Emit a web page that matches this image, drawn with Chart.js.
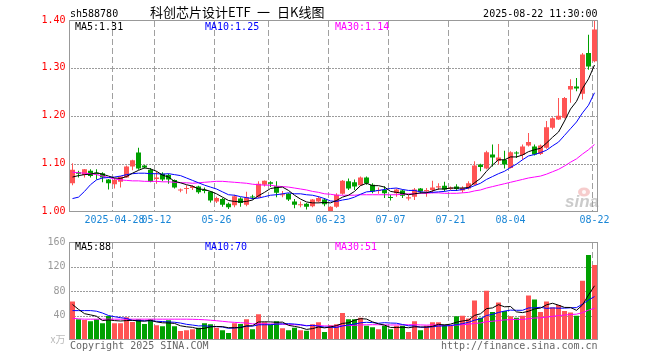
<!DOCTYPE html>
<html>
<head>
<meta charset="utf-8">
<script src="https://cdn.jsdelivr.net/npm/chart.js@4/dist/chart.umd.min.js"></script>
<style>
html, body { margin: 0; padding: 0; background: #fff; width: 660px; height: 360px; overflow: hidden; }
#k { position: absolute; left: 0; top: 0; }
#v { position: absolute; left: 0; top: 232px; }
</style>
</head>
<body>
<canvas id="k" width="660" height="232"></canvas>
<canvas id="v" width="660" height="128"></canvas>
<script>
// ---- data ----
const dates = [
  '2025-04-17','2025-04-18','2025-04-21','2025-04-22','2025-04-23','2025-04-24','2025-04-25','2025-04-28','2025-04-29','2025-04-30',
  '2025-05-06','2025-05-07','2025-05-08','2025-05-09','2025-05-12','2025-05-13','2025-05-14','2025-05-15','2025-05-16','2025-05-19',
  '2025-05-20','2025-05-21','2025-05-22','2025-05-23','2025-05-26','2025-05-27','2025-05-28','2025-05-29','2025-05-30','2025-06-03',
  '2025-06-04','2025-06-05','2025-06-06','2025-06-09','2025-06-10','2025-06-11','2025-06-12','2025-06-13','2025-06-16','2025-06-17',
  '2025-06-18','2025-06-19','2025-06-20','2025-06-23','2025-06-24','2025-06-25','2025-06-26','2025-06-27','2025-06-30','2025-07-01',
  '2025-07-02','2025-07-03','2025-07-04','2025-07-07','2025-07-08','2025-07-09','2025-07-10','2025-07-11','2025-07-14','2025-07-15',
  '2025-07-16','2025-07-17','2025-07-18','2025-07-21','2025-07-22','2025-07-23','2025-07-24','2025-07-25','2025-07-28','2025-07-29',
  '2025-07-30','2025-07-31','2025-08-01','2025-08-04','2025-08-05','2025-08-06','2025-08-07','2025-08-08','2025-08-11','2025-08-12',
  '2025-08-13','2025-08-14','2025-08-15','2025-08-18','2025-08-19','2025-08-20','2025-08-21','2025-08-22'
];
const open = [
  1.059,1.082,1.076,1.085,1.081,1.080,1.067,1.057,1.062,1.071,
  1.094,1.123,1.096,1.087,1.068,1.079,1.076,1.066,1.044,1.047,
  1.049,1.052,1.045,1.042,1.021,1.026,1.016,1.013,1.027,1.014,
  1.031,1.030,1.056,1.061,1.053,1.034,1.037,1.021,1.013,1.016,
  1.011,1.021,1.025,1.001,1.010,1.037,1.063,1.061,1.055,1.071,
  1.056,1.043,1.045,1.030,1.038,1.044,1.027,1.031,1.048,1.042,
  1.045,1.050,1.054,1.047,1.052,1.044,1.048,1.056,1.098,1.090,
  1.119,1.106,1.108,1.091,1.123,1.118,1.138,1.136,1.120,1.133,
  1.175,1.192,1.196,1.255,1.261,1.246,1.331,1.314
];
const high = [
  1.101,1.085,1.089,1.088,1.088,1.082,1.068,1.070,1.074,1.096,
  1.108,1.133,1.097,1.091,1.084,1.082,1.079,1.067,1.048,1.055,
  1.055,1.054,1.050,1.043,1.031,1.028,1.019,1.035,1.030,1.041,
  1.035,1.063,1.065,1.063,1.063,1.043,1.038,1.026,1.021,1.018,
  1.026,1.032,1.028,1.011,1.038,1.066,1.069,1.067,1.073,1.073,
  1.059,1.050,1.053,1.035,1.048,1.046,1.035,1.049,1.049,1.049,
  1.064,1.059,1.062,1.052,1.057,1.053,1.063,1.105,1.100,1.127,
  1.140,1.141,1.127,1.126,1.126,1.140,1.164,1.140,1.140,1.189,
  1.197,1.237,1.239,1.276,1.279,1.331,1.369,1.401
];
const low = [
  1.055,1.071,1.071,1.071,1.067,1.061,1.046,1.048,1.050,1.070,
  1.086,1.087,1.090,1.061,1.058,1.063,1.058,1.048,1.040,1.037,
  1.045,1.037,1.038,1.019,1.018,1.010,1.005,1.009,1.010,1.011,
  1.025,1.028,1.052,1.051,1.030,1.030,1.022,1.007,1.009,1.004,
  1.009,1.019,1.011,0.998,1.008,1.035,1.045,1.045,1.054,1.056,
  1.038,1.037,1.028,1.023,1.031,1.028,1.023,1.024,1.037,1.031,
  1.038,1.045,1.042,1.045,1.043,1.039,1.046,1.055,1.084,1.088,
  1.094,1.098,1.090,1.090,1.112,1.108,1.136,1.117,1.118,1.131,
  1.172,1.191,1.194,1.227,1.251,1.234,1.296,1.312
];
const close = [
  1.087,1.079,1.088,1.074,1.078,1.071,1.059,1.066,1.073,1.094,
  1.107,1.090,1.092,1.062,1.071,1.067,1.067,1.050,1.045,1.049,
  1.053,1.040,1.043,1.023,1.028,1.014,1.009,1.032,1.018,1.030,
  1.029,1.058,1.064,1.058,1.039,1.036,1.025,1.014,1.015,1.010,
  1.025,1.028,1.015,1.010,1.035,1.064,1.048,1.052,1.071,1.059,
  1.042,1.045,1.038,1.028,1.046,1.033,1.030,1.046,1.042,1.045,
  1.050,1.053,1.046,1.050,1.047,1.049,1.059,1.096,1.093,1.124,
  1.113,1.113,1.098,1.124,1.121,1.136,1.145,1.119,1.138,1.176,
  1.195,1.200,1.237,1.262,1.257,1.328,1.303,1.380
];
const ma5 = [
  1.072,1.075,1.077,1.078,1.081,1.078,1.074,1.070,1.069,1.073,
  1.080,1.086,1.091,1.089,1.084,1.076,1.072,1.063,1.060,1.056,
  1.053,1.047,1.046,1.042,1.037,1.030,1.023,1.021,1.020,1.021,
  1.024,1.033,1.040,1.048,1.050,1.051,1.044,1.034,1.026,1.020,
  1.018,1.018,1.019,1.018,1.023,1.030,1.034,1.042,1.054,1.059,
  1.054,1.054,1.051,1.042,1.040,1.038,1.035,1.037,1.039,1.039,
  1.043,1.047,1.047,1.049,1.049,1.049,1.050,1.060,1.069,1.084,
  1.097,1.108,1.108,1.114,1.114,1.118,1.125,1.129,1.132,1.143,
  1.155,1.166,1.189,1.214,1.230,1.257,1.277,1.306
];
const ma10 = [
  1.027,1.030,1.042,1.056,1.066,1.070,1.071,1.072,1.074,1.077,
  1.079,1.080,1.080,1.079,1.079,1.078,1.079,1.077,1.075,1.070,
  1.065,1.060,1.055,1.051,1.047,1.041,1.035,1.034,1.031,1.029,
  1.027,1.028,1.031,1.034,1.035,1.037,1.039,1.037,1.037,1.035,
  1.034,1.031,1.027,1.022,1.021,1.024,1.026,1.030,1.036,1.041,
  1.042,1.044,1.046,1.048,1.049,1.046,1.044,1.044,1.041,1.040,
  1.040,1.041,1.042,1.044,1.044,1.046,1.049,1.054,1.059,1.067,
  1.073,1.079,1.084,1.092,1.099,1.108,1.116,1.119,1.123,1.128,
  1.137,1.145,1.159,1.173,1.187,1.206,1.222,1.248
];
const ma30 = [
  1.082,1.081,1.080,1.079,1.077,1.074,1.071,1.068,1.066,1.065,
  1.064,1.064,1.063,1.063,1.063,1.062,1.062,1.061,1.060,1.060,
  1.059,1.060,1.061,1.062,1.063,1.063,1.062,1.061,1.060,1.059,
  1.057,1.056,1.055,1.055,1.053,1.052,1.051,1.049,1.047,1.045,
  1.042,1.040,1.037,1.036,1.034,1.034,1.034,1.034,1.035,1.035,
  1.035,1.035,1.035,1.035,1.035,1.036,1.037,1.037,1.038,1.038,
  1.039,1.039,1.038,1.038,1.038,1.039,1.040,1.043,1.045,1.049,
  1.052,1.055,1.058,1.061,1.064,1.067,1.070,1.072,1.074,1.078,
  1.083,1.088,1.095,1.103,1.110,1.120,1.129,1.140
];
const volume = [
  62.8,33.8,32.8,30.6,33.8,27.4,39.2,27.4,27.4,37.1,
  29.5,33.8,26.3,33.8,24.2,22.6,32.2,22.6,14.5,16.1,
  17.7,19.9,27.4,25.8,19.9,16.1,11.3,27.4,26.3,33.8,
  17.7,41.9,29.0,25.2,30.6,19.3,16.1,19.9,16.1,15.0,
  25.8,29.0,12.9,24.0,25.8,44.0,33.8,33.8,36.5,23.1,
  21.0,17.7,23.1,17.7,23.1,23.1,12.9,30.6,16.1,23.1,
  29.0,29.0,25.2,23.1,38.7,39.7,34.9,64.4,36.5,80.6,
  45.6,61.2,47.3,38.7,36.5,39.7,72.5,66.1,45.6,63.0,
  53.0,57.0,47.5,45.0,39.7,96.6,138.6,122.5
];
const vma5 = [
  58,50,43,41,38.8,31.7,32.8,31.7,31.0,31.7,
  32.1,31.0,30.8,32.1,29.5,28.1,27.8,27.1,23.2,21.6,
  20.6,18.2,19.1,21.4,22.1,21.8,20.1,20.1,20.2,23.0,
  23.3,29.4,29.7,29.5,28.9,29.2,24.0,22.2,20.4,17.3,
  18.6,21.2,19.8,21.3,23.5,27.1,28.1,32.3,34.8,34.2,
  29.6,26.4,24.3,20.5,20.5,20.9,20.0,21.5,21.2,21.2,
  22.3,25.6,24.5,25.9,29.0,31.1,32.3,40.2,42.8,51.2,
  52.4,57.7,54.2,54.7,45.9,44.7,46.9,50.7,52.1,57.4,
  60.0,56.9,53.2,53.1,48.4,57.2,73.5,88.5
];
const vma10 = [
  48,48,48,48,47,44,40,38,36.5,35.2,
  31.9,31.9,31.3,31.6,30.6,30.1,29.4,29.0,27.7,25.6,
  24.4,23.0,23.1,22.3,21.9,21.2,19.1,19.6,20.8,22.6,
  22.6,24.8,24.9,24.9,25.9,26.3,26.7,26.0,25.0,23.1,
  23.9,22.6,21.0,20.9,20.4,22.9,24.6,26.0,28.1,28.9,
  28.4,27.3,28.3,27.7,27.4,25.3,23.2,22.9,20.8,20.8,
  21.6,22.8,23.0,23.5,25.1,26.7,28.9,32.3,34.4,40.1,
  41.8,45.0,47.2,48.8,48.5,48.5,52.3,52.5,53.4,51.6,
  52.4,51.9,52.0,52.6,52.9,58.6,65.2,70.9
];
const vma30 = [
  35.5,34.5,34,34,34,34,34,34,34,34,
  34,34,34,34,34,34,34,34,34,34,
  33.8,33.5,33.0,32.3,31.5,30.5,29.5,28.8,28.2,27.8,
  26.3,26.6,26.4,26.2,26.1,25.9,25.1,24.9,24.5,23.7,
  23.6,23.5,23.0,22.7,22.7,23.4,23.5,23.9,24.6,24.8,
  25.0,24.9,24.7,24.5,24.6,24.8,24.9,25.0,24.6,24.3,
  24.6,24.2,24.1,24.0,24.3,25.0,25.6,27.1,27.8,29.9,
  30.6,31.7,32.8,33.3,33.7,33.5,34.8,35.9,36.2,37.5,
  38.6,39.9,40.7,41.6,42.2,44.6,48.8,51.9
];
const tickDates = ['2025-04-28','2025-05-12','2025-05-26','2025-06-09','2025-06-23','2025-07-07','2025-07-21','2025-08-04','2025-08-22'];
const tickTexts = ['2025-04-28','05-12','05-26','06-09','06-23','07-07','07-21','08-04','08-22'];
const priceTicks = [1.00, 1.10, 1.20, 1.30, 1.40];
const volTicks = [0, 40, 80, 120, 160];

// ---- look ----
const MONO = 'DejaVu Sans Mono';
const F10 = '10px "' + MONO + '"';
const RED = 'rgb(255,84,84)', GREEN = 'rgb(0,160,0)';
const C5 = '#000000', C10 = '#0000ff', C30 = '#ff00ff';
const candleColor = close.map((c, i) => c >= open[i] ? RED : GREEN);
const xTickIdx = tickDates.map(d => dates.indexOf(d));

Chart.defaults.font.family = MONO;
Chart.defaults.font.size = 10;

function xAxis(withLabels) {
  return {
    type: 'category',
    offset: true,
    grid: { display: false, drawTicks: false },
    border: { display: false },
    ticks: {
      display: withLabels, autoSkip: false, maxRotation: 0, minRotation: 0, padding: 3,
      color: '#1a86d6', font: { family: MONO, size: 10 },
      callback: (v, i) => { const k = xTickIdx.indexOf(i); return k < 0 ? '' : tickTexts[k]; }
    },
    afterFit: s => { s.height = withLabels ? 20.5 : 0; }
  };
}

function yAxis(min, max, list, color, fmt) {
  return {
    min, max,
    afterBuildTicks: s => { s.ticks = list.map(v => ({ value: v })); },
    grid: { display: false, drawTicks: false },
    border: { display: false },
    ticks: { color, padding: 4, font: { family: MONO, size: 10 }, callback: fmt },
    afterFit: s => { s.width = 69.5; }
  };
}

function lineSet(data, color) {
  return { type: 'line', data, borderColor: color, borderWidth: 1, pointRadius: 0, tension: 0, order: 0 };
}

// x position of a category centre, from the x scale (fallback: its tick pixel)
function catPixel(scale, i) {
  let p = scale.getPixelForValue(i);
  if (!isFinite(p)) p = scale.getPixelForTick(i);
  return p;
}

// dotted horizontal rules at inner ticks, dashed verticals at the labelled dates
function grids(chart, yList) {
  const { ctx, chartArea: a } = chart;
  const xs = chart.scales.x, ys = chart.scales.y;
  const L = Math.round(a.left), R = Math.round(a.right), T = Math.round(a.top), B = Math.round(a.bottom);
  ctx.save();
  ctx.globalCompositeOperation = 'destination-over';
  ctx.fillStyle = '#9c9c9c';
  yList.slice(1, -1).forEach(v => {
    const py = Math.round(ys.getPixelForValue(v));
    for (let x = L + 1; x < R - 1; x += 3) ctx.fillRect(x, py, 2, 1);
  });
  ctx.fillStyle = '#a0a0a0';
  for (const i of xTickIdx) {
    const px = Math.round(catPixel(xs, i) - 2.5);
    for (let y = T + 1; y < B - 1; y += 9) ctx.fillRect(px, y, 1, Math.min(6, B - 1 - y));
  }
  ctx.restore();
}

function frame(ctx, a) {
  ctx.save();
  ctx.strokeStyle = '#999999';
  ctx.lineWidth = 1;
  const l = Math.floor(a.left) + 0.5, r = Math.floor(a.right) + 0.5, t = Math.round(a.top) + 0.5, b = Math.round(a.bottom) - 0.5;
  ctx.strokeRect(l, t, r - l, b - t);
  ctx.restore();
}

function text(ctx, s, x, y, color, font, align) {
  ctx.fillStyle = color;
  ctx.font = font;
  ctx.textAlign = align || 'left';
  ctx.textBaseline = 'alphabetic';
  ctx.fillText(s, x, y);
}

const kDecor = {
  id: 'kDecor',
  beforeDatasetsDraw(chart) {
    const ctx = chart.ctx;
    ctx.save();
    ctx.fillStyle = 'rgba(230,110,110,0.35)';
    ctx.beginPath(); ctx.ellipse(584, 192, 6, 4.5, 0, 0, Math.PI * 2); ctx.fill();
    ctx.fillStyle = 'rgba(255,255,255,0.9)';
    ctx.beginPath(); ctx.arc(584, 192, 2, 0, Math.PI * 2); ctx.fill();
    text(ctx, 'sina', 565, 207, 'rgba(160,160,160,0.55)', 'italic bold 17px "Liberation Sans"');
    ctx.restore();
  },
  afterDraw(chart) {
    const { ctx, chartArea: a } = chart;
    grids(chart, priceTicks);
    frame(ctx, a);
    ctx.save();
    const cjk = '13px "Noto Sans CJK SC"';
    text(ctx, 'sh588780', 70, 16.5, '#000', F10);
    text(ctx, '科创芯片设计ETF', 150, 16.5, '#000', cjk);
    text(ctx, '一', 257, 16.5, '#000', cjk);
    text(ctx, '日K线图', 277, 16.5, '#000', cjk);
    text(ctx, '2025-08-22 11:30:00', 597.5, 16.5, '#000', F10, 'right');
    const n = ma5.length - 1;
    text(ctx, 'MA5:' + ma5[n].toFixed(2), 75, 29.5, C5, F10);
    text(ctx, 'MA10:' + ma10[n].toFixed(2), 205, 29.5, C10, F10);
    text(ctx, 'MA30:' + ma30[n].toFixed(2), 335, 29.5, C30, F10);
    ctx.restore();
  }
};

const vDecor = {
  id: 'vDecor',
  afterDraw(chart) {
    const { ctx, chartArea: a } = chart;
    grids(chart, volTicks);
    frame(ctx, a);
    ctx.save();
    const n = vma5.length - 1;
    text(ctx, 'MA5:' + Math.floor(vma5[n]), 75, 18, C5, F10);
    text(ctx, 'MA10:' + Math.floor(vma10[n]), 205, 18, C10, F10);
    text(ctx, 'MA30:' + Math.floor(vma30[n]), 335, 18, C30, F10);
    text(ctx, 'x万', 65.5, 111, '#bbbbbb', '10px "Noto Sans CJK SC"', 'right');
    text(ctx, 'Copyright 2025 SINA.COM', 70, 117, '#666666', F10);
    text(ctx, 'http://finance.sina.com.cn', 597.5, 117, '#666666', F10, 'right');
    ctx.restore();
  }
};

const common = {
  responsive: false,
  devicePixelRatio: 1,
  animation: false,
  events: [],
  plugins: { legend: { display: false }, tooltip: { enabled: false } }
};

new Chart(document.getElementById('k').getContext('2d'), {
  type: 'bar',
  data: {
    labels: dates,
    datasets: [
      lineSet(ma5, C5),
      lineSet(ma10, C10),
      lineSet(ma30, C30),
      { type: 'bar', data: open.map((o, i) => [o, close[i]]), backgroundColor: candleColor, barThickness: 5, minBarLength: 1, grouped: false, inflateAmount: 0, order: 1 },
      { type: 'bar', data: low.map((l, i) => [l, high[i]]), backgroundColor: candleColor, barThickness: 1, grouped: false, inflateAmount: 0, order: 2 }
    ]
  },
  options: {
    ...common,
    layout: { padding: { left: 0, right: 62.5, top: 20, bottom: 0 } },
    scales: {
      x: xAxis(true),
      y: yAxis(1.0, 1.4, priceTicks, '#ff0000', v => v.toFixed(2))
    }
  },
  plugins: [kDecor]
});

new Chart(document.getElementById('v').getContext('2d'), {
  type: 'bar',
  data: {
    labels: dates,
    datasets: [
      lineSet(vma5, C5),
      lineSet(vma10, C10),
      lineSet(vma30, C30),
      { type: 'bar', data: volume, backgroundColor: candleColor, barThickness: 5, grouped: false, inflateAmount: 0, order: 1 }
    ]
  },
  options: {
    ...common,
    layout: { padding: { left: 0, right: 62.5, top: 9, bottom: 20 } },
    scales: {
      x: xAxis(false),
      y: yAxis(0, 160, volTicks, '#999999', v => v === 0 ? '' : String(v))
    }
  },
  plugins: [vDecor]
});
</script>
</body>
</html>
